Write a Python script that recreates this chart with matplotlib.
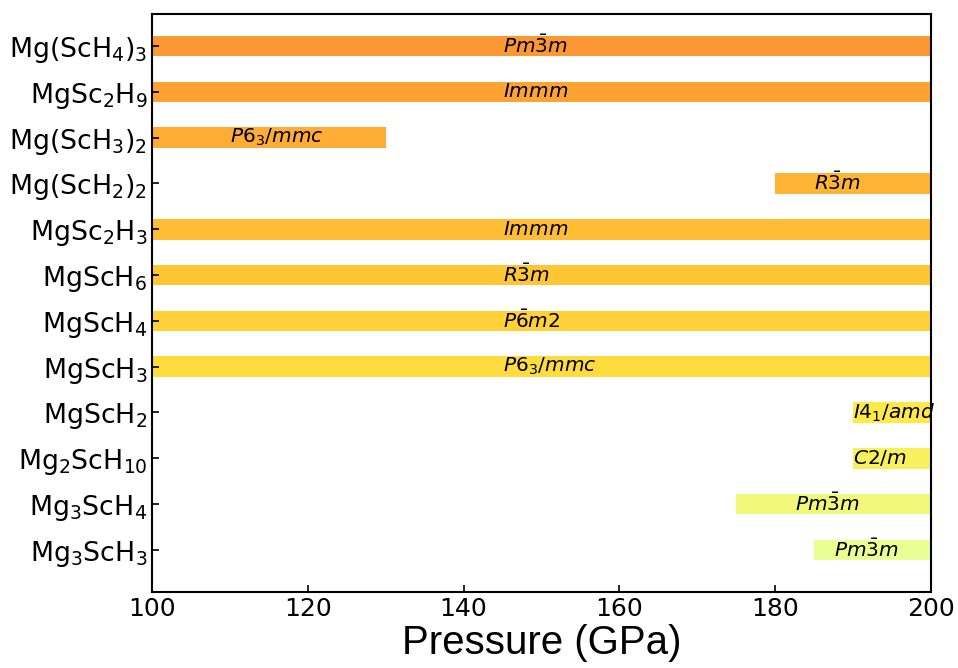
import matplotlib
matplotlib.use("Agg")
import matplotlib.pyplot as plt
import numpy as np

compounds = [
    r"Mg(ScH$_4$)$_3$", r"MgSc$_2$H$_9$", r"Mg(ScH$_3$)$_2$", r"Mg(ScH$_2$)$_2$",
    r"MgSc$_2$H$_3$", r"MgScH$_6$", r"MgScH$_4$", r"MgScH$_3$",
    r"MgScH$_2$", r"Mg$_2$ScH$_{10}$", r"Mg$_3$ScH$_4$", r"Mg$_3$ScH$_3$",
]
p_start = [100, 100, 100, 180, 100, 100, 100, 100, 190, 190, 175, 185]
p_end = [200, 200, 130, 200, 200, 200, 200, 200, 200, 200, 200, 200]
space_groups = [
    r"$Pm\bar{3}m$", r"$Immm$", r"$P6_3/mmc$", r"$R\bar{3}m$",
    r"$Immm$", r"$R\bar{3}m$", r"$P\bar{6}m2$", r"$P6_3/mmc$",
    r"$I4_1/amd$", r"$C2/m$", r"$Pm\bar{3}m$", r"$Pm\bar{3}m$",
]
x_ticks = [100, 120, 140, 160, 180, 200]

fig = plt.figure(figsize=(9.58, 6.68), dpi=100)
ax = fig.add_axes([0.1587, 0.1138, 0.9718 - 0.1587, 0.979 - 0.1138])

n = len(compounds)
ypos = np.arange(n)
colors = plt.cm.Wistia(np.linspace(1, 0, n))

for i in range(n):
    ax.barh(ypos[i], p_end[i] - p_start[i], left=p_start[i], height=0.45,
            color=colors[i], alpha=0.8, edgecolor="none")
    xm = (p_start[i] + p_end[i]) / 2 - 5
    ax.text(xm, ypos[i], space_groups[i], ha="left", va="center",
            fontsize=14.5, color="black")

ax.set_xlim(100, 200)
ax.set_ylim(n - 0.08, -0.7)
ax.set_xticks(x_ticks)
ax.set_xticklabels([str(t) for t in x_ticks], fontsize=18)
ax.set_yticks(ypos)
ax.set_yticklabels(compounds, fontsize=19.3)
ax.tick_params(direction="in", length=5, width=1.2)
for sp in ax.spines.values():
    sp.set_linewidth(1.5)
ax.set_xlabel("Pressure (GPa)", fontsize=29, family="Liberation Sans", labelpad=2)

fig.savefig("out.png", dpi=100)
